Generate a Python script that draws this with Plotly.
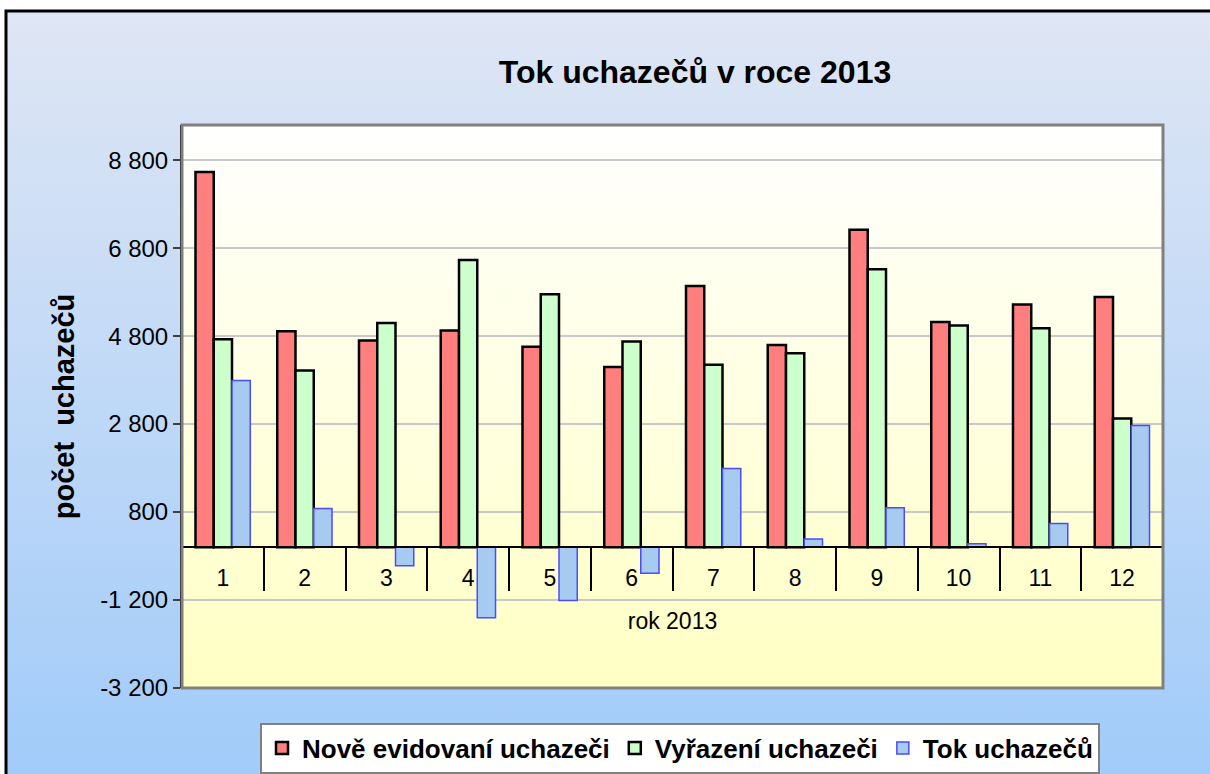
import base64
import plotly.graph_objects as go

# ---------------- data ----------------
months = ["1", "2", "3", "4", "5", "6", "7", "8", "9", "10", "11", "12"]
nove_evidovani = [8530, 4910, 4700, 4930, 4560, 4100, 5940, 4600, 7220, 5120, 5520, 5690]
vyrazeni = [4730, 4020, 5100, 6530, 5750, 4680, 4150, 4410, 6320, 5040, 4980, 2930]
tok = [3790, 880, -420, -1600, -1210, -590, 1790, 190, 900, 80, 540, 2770]

y_tickvals = [-3200, -1200, 800, 2800, 4800, 6800, 8800]
y_ticktext = ["-3 200", "-1 200", "800", "2 800", "4 800", "6 800", "8 800"]
y_range = [-3200, 9600]

series_names = ["Nově evidovaní uchazeči", "Vyřazení uchazeči", "Tok uchazečů"]
title_text = "Tok uchazečů v roce 2013"
y_title = "počet \u00a0uchazečů"
x_title = "rok 2013"

# ---------------- layout geometry (pixels) ----------------
W, H = 1210, 774
PL, PR, PT, PB = 182, 1163, 125, 688   # plot area box
FONT = "Liberation Sans, Arial, sans-serif"


def px2x(px):
    return (px - PL) / (PR - PL)


def px2y(py):
    return (PB - py) / (PB - PT)


def grad_uri(c1, c2):
    svg = (
        '<svg xmlns="http://www.w3.org/2000/svg" width="100" height="100" '
        'viewBox="0 0 100 100" preserveAspectRatio="none">'
        '<defs><linearGradient id="g" x1="0" y1="0" x2="0" y2="1">'
        f'<stop offset="0" stop-color="{c1}"/><stop offset="1" stop-color="{c2}"/>'
        '</linearGradient></defs>'
        '<rect width="100" height="100" fill="url(#g)"/></svg>'
    )
    return "data:image/svg+xml;base64," + base64.b64encode(svg.encode()).decode()


fig = go.Figure()
fig.add_bar(
    name=series_names[0], x=months, y=nove_evidovani,
    marker=dict(color="#FF7F7F", line=dict(color="black", width=2.5)),
)
fig.add_bar(
    name=series_names[1], x=months, y=vyrazeni,
    marker=dict(color="#CCFFCC", line=dict(color="black", width=2.5)),
)
fig.add_bar(
    name=series_names[2], x=months, y=tok,
    marker=dict(color="#A6CAF0", line=dict(color="#4B4BFF", width=1.5)),
)

zero_pos = (0 - y_range[0]) / (y_range[1] - y_range[0])

fig.update_layout(
    width=W, height=H,
    margin=dict(l=PL, r=W - PR, t=PT, b=H - PB, pad=0, autoexpand=False),
    paper_bgcolor="white",
    plot_bgcolor="rgba(0,0,0,0)",
    barmode="group",
    bargap=0.33,
    bargroupgap=0,
    font=dict(family=FONT, size=23, color="black"),
    title=dict(
        text=title_text, x=px2x(695), xref="paper", xanchor="center",
        y=1 - 72 / H, yref="container", yanchor="middle",
        font=dict(family=FONT, size=32, color="black", weight="bold"),
    ),
    showlegend=True,
    legend=dict(
        orientation="h", xref="container", x=680 / W, xanchor="center",
        yref="container", y=1 - 748 / H, yanchor="middle",
        bgcolor="white", bordercolor="#808080", borderwidth=2,
        font=dict(family=FONT, size=26, color="black", weight="bold"),
        itemwidth=30,
    ),
    xaxis=dict(
        type="category",
        anchor="free", position=zero_pos,
        showline=True, linecolor="black", linewidth=2,
        ticks="outside", tickson="boundaries", ticklen=43, tickcolor="black", tickwidth=1.5,
        ticklabelstandoff=10,
        tickfont=dict(family=FONT, size=23, color="black"),
        showgrid=False, zeroline=False,
        title=dict(text=x_title, font=dict(family=FONT, size=23, color="black"), standoff=22),
    ),
    yaxis=dict(
        range=y_range,
        tickvals=y_tickvals, ticktext=y_ticktext,
        showgrid=True, gridcolor="#C8C8C8", gridwidth=1.5,
        zeroline=False,
        showline=True, linecolor="black", linewidth=2,
        ticks="outside", ticklen=7, tickcolor="#404040", tickwidth=1.5,
        tickfont=dict(family=FONT, size=24, color="black"),
        title=dict(text=y_title, font=dict(family=FONT, size=29, color="black", weight="bold"), standoff=17),
    ),
    images=[
        dict(
            source=grad_uri("#DFE6F4", "#9ECAFA"), xref="paper", yref="paper",
            x=px2x(6), y=px2y(11), sizex=px2x(W + 40) - px2x(6), sizey=px2y(11) - px2y(H + 40),
            xanchor="left", yanchor="top", sizing="stretch", layer="below",
        ),
        dict(
            source=grad_uri("#FFFFFF", "#FFFFC4"), xref="paper", yref="paper",
            x=0, y=1, sizex=1, sizey=1,
            xanchor="left", yanchor="top", sizing="stretch", layer="below",
        ),
    ],
    shapes=[
        # outer chart frame
        dict(type="rect", xref="paper", yref="paper", layer="above",
             x0=px2x(6), x1=px2x(W + 100), y0=px2y(H + 100), y1=px2y(11),
             line=dict(color="black", width=3), fillcolor="rgba(0,0,0,0)"),
        # plot area box
        dict(type="rect", xref="paper", yref="paper", layer="above",
             x0=0, x1=1, y0=0, y1=1,
             line=dict(color="#808080", width=3), fillcolor="rgba(0,0,0,0)"),
    ],
)

fig.write_html(
    "out.html",
    config={"displayModeBar": False},
    post_script="document.body.style.margin='0';",
)
